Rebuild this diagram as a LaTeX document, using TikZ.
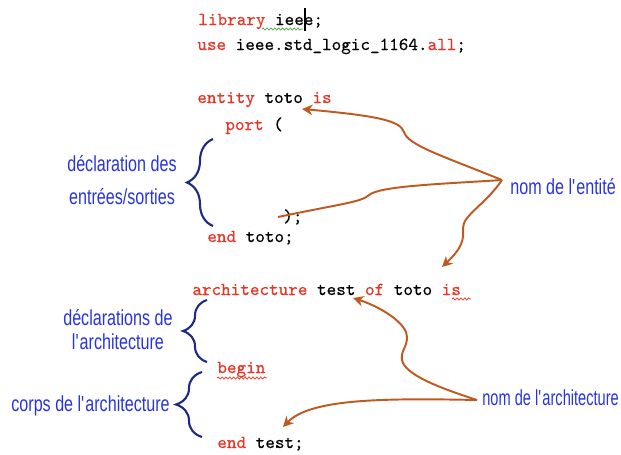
\documentclass[tikz,border=0pt]{standalone}
\usepackage{fontspec}
\setsansfont[FakeStretch=0.74]{Liberation Sans}
\newfontfamily\narrowsans[FakeStretch=0.67]{Liberation Sans}
\newfontfamily\codefont[FakeBold=0.45]{lmmono10-regular.otf}
\usepackage{xcolor}
\usepackage{tikz}
\usetikzlibrary{arrows.meta,positioning,calc,decorations.pathreplacing,decorations.pathmorphing}

\definecolor{kwred}{RGB}{232,52,36}
\definecolor{lblue}{RGB}{40,52,222}
\definecolor{bnavy}{RGB}{32,42,132}
\definecolor{abrown}{RGB}{192,88,32}
\definecolor{spgreen}{RGB}{80,165,70}
\newcommand{\kwd}[1]{\textcolor{kwred}{#1}}
\newcommand{\sq}{\textquotesingle}

\begin{document}
\begin{tikzpicture}[x=0.02cm, y=-0.02cm,
  code/.style={anchor=base west, inner sep=0pt, font=\fontsize{10.4}{12}\selectfont\codefont},
  lbl/.style={align=center, inner sep=0pt, text=lblue, font=\fontsize{12.4}{18.8}\selectfont\sffamily},
  brc/.style={draw=bnavy, line width=1.2pt, decorate, decoration={brace, amplitude=#1}},
  arr/.style={-{Stealth[length=6pt,width=6pt]}, draw=abrown, line width=1.1pt},
  lnk/.style={draw=abrown, line width=1.1pt},
  squig/.style={draw=#1, line width=0.4pt, decorate, decoration={snake, amplitude=0.6pt, segment length=2.2pt}},
  node distance=0.2cm
]
\useasboundingbox (0,0) rectangle (621,454);

% code
\node[code] (lib) at (198,25) {\kwd{library} ieee;};
\node[code] (use) at (197,50) {\kwd{use} ieee.std\_logic\_1164.\kwd{all};};
\node[code] (ent) at (197,103) {\kwd{entity} toto \kwd{is}};
\node[code] (port) at (225,130) {\kwd{port} (};
\node[code] (close) at (283,222) {);};
\node[code] (endent) at (207,242) {\kwd{end} toto;};
\node[code] (arch) at (192,295) {\kwd{architecture} test \kwd{of} toto \kwd{is}};
\node[code] (begin) at (217,373) {\kwd{begin}};
\node[code] (endarch) at (217,448) {\kwd{end} test;};

\draw[line width=0.7pt] (305,8) -- (305,31);
\draw[squig=spgreen] (262,29) -- (303,29);
\draw[squig=kwred] (452,299) -- (471,299);
\draw[squig=kwred] (217,378) -- (267,378);

% braces
\draw[brc=0.52cm] (213,226) -- (213,139);
\draw[brc=0.48cm] (207,362) -- (207,300);
\draw[brc=0.52cm] (202,437) -- (202,372);
\coordinate (b1tip) at (187,180);
\coordinate (b2tip) at (183,330);
\coordinate (b3tip) at (176,406);

\node[lbl, left=0.2cm of b1tip] (io) {déclaration des\\entrées/sorties};
\node[lbl, left=0.2cm of b2tip, font=\fontsize{12.4}{13.7}\selectfont\sffamily] (decl) {déclarations de\\l\sq architecture};
\node[lbl, left=0.12cm of b3tip] (body) {corps de l\sq architecture};

\node[lbl, anchor=west] (nent) at (510,187) {nom de l\sq entité};
\node[lbl, anchor=west, font=\fontsize{12.4}{14}\selectfont\narrowsans] (narch) at (482,398) {nom de l\sq architecture};

% arrows
\coordinate (ej) at ($(nent.west)+(-8,-7)$);
\coordinate (ea) at ($(narch.west)+(-5,2)$);
\coordinate (t1) at (302,109);
\coordinate (t2) at (278,217);
\coordinate (t3) at (442,267);
\coordinate (t4) at (353,298);
\coordinate (t5) at (283,427);

\draw[arr] (ej) .. controls (440,155) and (408,145) .. (404,132) .. controls (400,121) and (380,116) .. (t1);
\draw[lnk] (ej) .. controls (440,184) and (380,186) .. (369,195) .. controls (362,202) and (340,204) .. (t2);
\draw[arr] (ej) .. controls (485,205) and (463,215) .. (463,228) .. controls (464,240) and (462,248) .. (t3);
\draw[arr] (ea) .. controls (440,388) and (405,375) .. (402,360) .. controls (400,350) and (410,345) .. (406,332) .. controls (400,318) and (375,305) .. (t4);
\draw[arr] (ea) .. controls (380,398) and (310,399) .. (t5);
\end{tikzpicture}
\end{document}
